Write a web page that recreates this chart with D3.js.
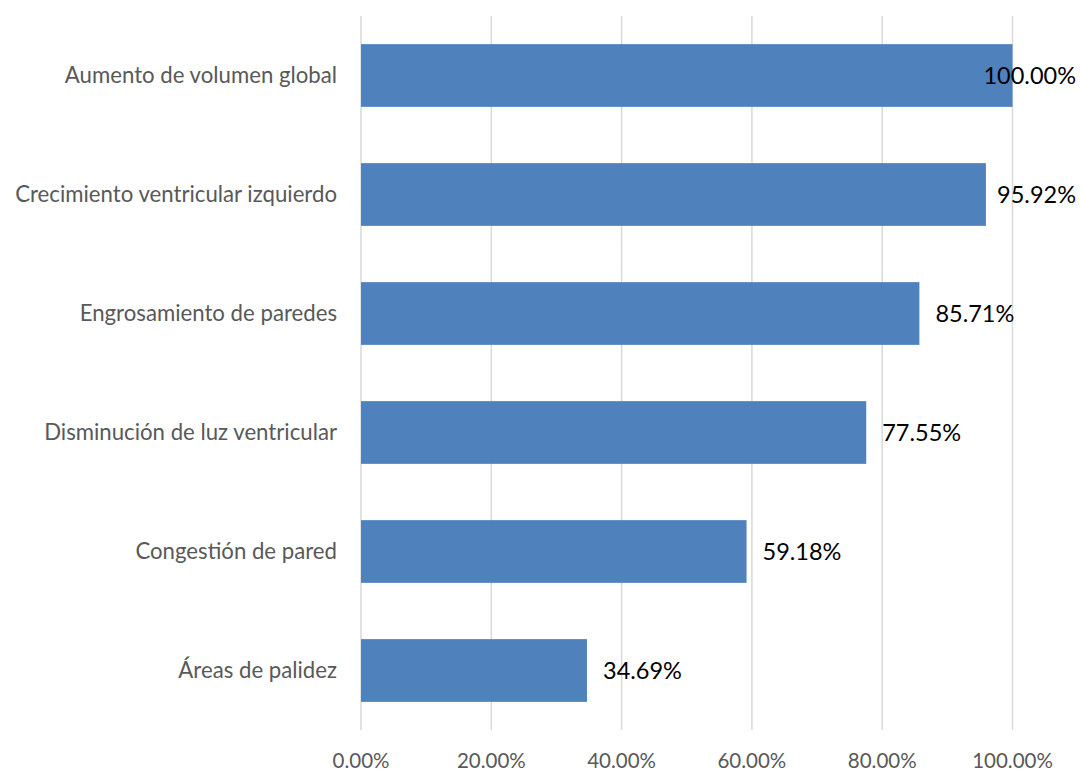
<!DOCTYPE html>
<html>
<head>
<meta charset="utf-8">
<script src="https://cdn.jsdelivr.net/npm/d3@7"></script>
<style>
  html, body { margin: 0; padding: 0; background: #ffffff; }
  svg { display: block; }
  text { font-family: Lato, "Open Sans", sans-serif; }
</style>
</head>
<body>
<svg id="chart" width="1082" height="773"></svg>
<script>
// Hallazgos y porcentaje de casos
const categories = [
  "Aumento de volumen global",
  "Crecimiento ventricular izquierdo",
  "Engrosamiento de paredes",
  "Disminución de luz ventricular",
  "Congestión de pared",
  "Áreas de palidez"
];
const values = [100.00, 95.92, 85.71, 77.55, 59.18, 34.69];
const tickValues = [0, 20, 40, 60, 80, 100];

const W = 1082, H = 773;
const margin = { top: 16, right: 69.5, bottom: 43, left: 361 };
const innerRight = W - margin.right;
const innerBottom = H - margin.bottom;

const svg = d3.select("#chart");

const x = d3.scaleLinear().domain([0, 100]).range([margin.left, innerRight]);
const y = d3.scaleBand().domain(categories).range([margin.top, innerBottom]).paddingInner(0.473).paddingOuter(0.2365);

const fmt = v => v.toFixed(2) + "%";

// vertical gridlines
svg.append("g").selectAll("line").data(tickValues).join("line")
  .attr("x1", d => x(d)).attr("x2", d => x(d))
  .attr("y1", margin.top).attr("y2", innerBottom)
  .attr("stroke", "#d9d9d9").attr("stroke-width", 1.5);

// bars
svg.append("g").selectAll("rect").data(values).join("rect")
  .attr("x", x(0))
  .attr("y", (d, i) => y(categories[i]))
  .attr("width", d => x(d) - x(0))
  .attr("height", y.bandwidth())
  .attr("fill", "#4f81bd");

// category labels
svg.append("g").selectAll("text").data(categories).join("text")
  .attr("x", margin.left - 24)
  .attr("y", d => y(d) + y.bandwidth() / 2)
  .attr("dy", "0.35em")
  .attr("text-anchor", "end")
  .attr("font-size", 22.2)
  .attr("fill", "#595959")
  .text(d => d);

// value labels, kept inside the chart area
const labelLimit = 1076;
svg.append("g").selectAll("text").data(values).join("text")
  .attr("y", (d, i) => y(categories[i]) + y.bandwidth() / 2)
  .attr("dy", "0.35em")
  .attr("font-size", 23.5)
  .attr("fill", "#000000")
  .text(d => fmt(d))
  .each(function(d) {
    const w = this.getComputedTextLength();
    const x0 = Math.min(x(d) + 16, labelLimit - w);
    d3.select(this).attr("x", x0);
  });

// x axis tick labels
svg.append("g").selectAll("text").data(tickValues).join("text")
  .attr("x", d => x(d))
  .attr("y", 768)
  .attr("text-anchor", "middle")
  .attr("font-size", 20.5)
  .attr("fill", "#595959")
  .text(d => fmt(d));
</script>
</body>
</html>
